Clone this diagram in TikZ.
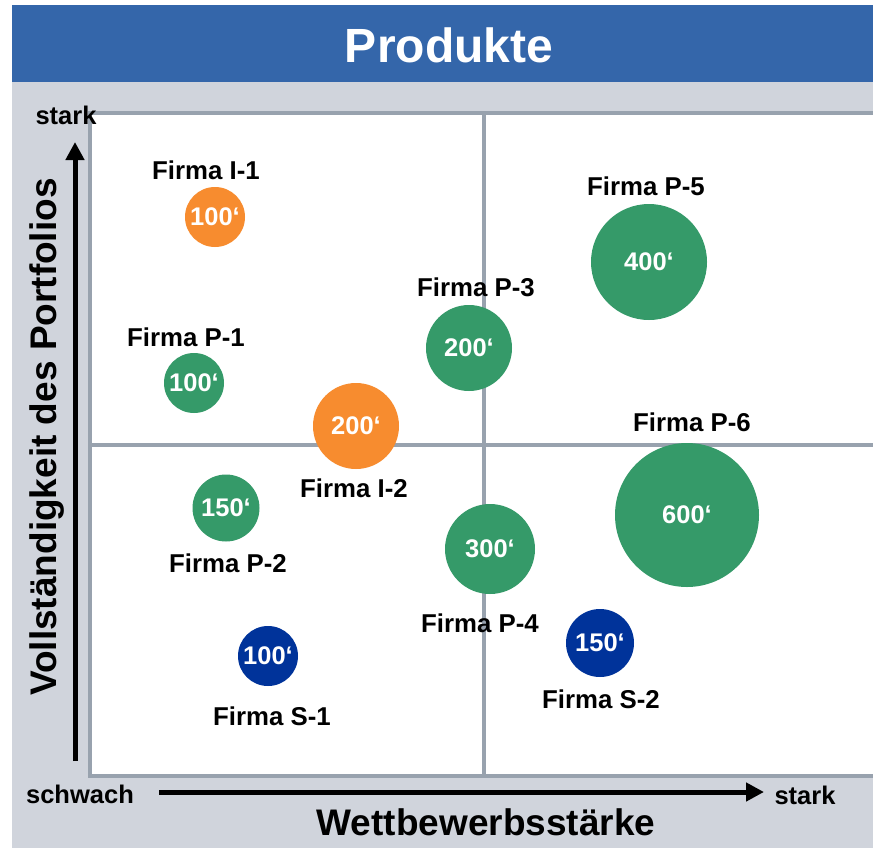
\documentclass[tikz,border=0pt]{standalone}
\usepackage{fontspec}
\setmainfont{Liberation Sans}
\usetikzlibrary{arrows.meta}
\definecolor{titleblue}{HTML}{3466AA}
\definecolor{bggray}{HTML}{D0D4DC}
\definecolor{gridgray}{HTML}{98A2AE}
\definecolor{borange}{HTML}{F78C2F}
\definecolor{bgreen}{HTML}{359A69}
\definecolor{bblue}{HTML}{00339A}
\tikzset{
  gridline/.style={draw=gridgray, line width=3.5pt},
  axisarrow/.style={line width=5pt, -{Triangle[length=18pt,width=18pt]}},
  bubble/.style={circle, inner sep=0pt, text=white, font=\bfseries\fontsize{25.5}{30}\selectfont},
  firm/.style={inner sep=0pt, font=\bfseries\fontsize{25.8}{30}\selectfont},
  axislabel/.style={inner sep=0pt, font=\bfseries\fontsize{37}{42}\selectfont},
  endlabel/.style={inner sep=0pt, anchor=base, font=\bfseries\fontsize{25.5}{30}\selectfont}
}
\begin{document}
\begin{tikzpicture}[x=1pt,y=-1pt]
\useasboundingbox (0,0) rectangle (873,849);
\fill[white] (0,0) rectangle (873,849);
% background panels
\fill[bggray] (11.5,82) rectangle (873,848);
\fill[titleblue] (11.5,5) rectangle (873,82);
\node[inner sep=0pt, anchor=base, text=white, font=\bfseries\fontsize{48}{56}\selectfont] (title) at (449,62) {Produkte};
% plot area
\fill[white] (90,113) rectangle (873,776);
\draw[gridline] (90,113) -- (873,113);
\draw[gridline] (90,776) -- (873,776);
\draw[gridline] (90,111.25) -- (90,777.75);
\draw[gridline] (484,113) -- (484,776);
\draw[gridline] (90,445) -- (873,445);
% axes
\coordinate (ybot) at (75,761);
\coordinate (ytop) at (75,142);
\coordinate (xleft) at (159,792);
\coordinate (xright) at (764,792);
\draw[axisarrow] (ybot) -- (ytop);
\draw[axisarrow] (xleft) -- (xright);
\node[endlabel] (ystark) at (66,124) {stark};
\node[endlabel] (schwach) at (80,803) {schwach};
\node[endlabel] (xstark) at (805,804) {stark};
\node[axislabel, anchor=base] (xlab) at (486,835) {Wettbewerbsstärke};
\node[axislabel, anchor=base, rotate=90] (ylab) at (56,437) {Vollständigkeit des Portfolios};
% bubbles
\node[bubble, fill=borange, minimum size=60pt] (i1) at (215,217) {100‘};
\node[bubble, fill=bgreen, minimum size=60pt] (p1) at (194,383) {100‘};
\node[bubble, fill=borange, minimum size=86pt] (i2) at (356,426) {200‘};
\node[bubble, fill=bgreen, minimum size=67pt] (p2) at (226,508) {150‘};
\node[bubble, fill=bblue, minimum size=60pt] (s1) at (268,656) {100‘};
\node[bubble, fill=bgreen, minimum size=86pt] (p3) at (469,348) {200‘};
\node[bubble, fill=bgreen, minimum size=90pt] (p4) at (490,549) {300‘};
\node[bubble, fill=bgreen, minimum size=116pt] (p5) at (649,262) {400‘};
\node[bubble, fill=bgreen, minimum size=144pt] (p6) at (687,515) {600‘};
\node[bubble, fill=bblue, minimum size=68pt] (s2) at (600,643) {150‘};
% labels
\node[firm] (li1) at (206,170) {Firma I-1};
\node[firm] (lp1) at (186,337) {Firma P-1};
\node[firm] (li2) at (354,488) {Firma I-2};
\node[firm] (lp2) at (228,563) {Firma P-2};
\node[firm] (ls1) at (272,716) {Firma S-1};
\node[firm] (lp3) at (476,287) {Firma P-3};
\node[firm] (lp4) at (480,623) {Firma P-4};
\node[firm] (lp5) at (646,186) {Firma P-5};
\node[firm] (lp6) at (692,422) {Firma P-6};
\node[firm] (ls2) at (601,699) {Firma S-2};
\end{tikzpicture}
\end{document}
